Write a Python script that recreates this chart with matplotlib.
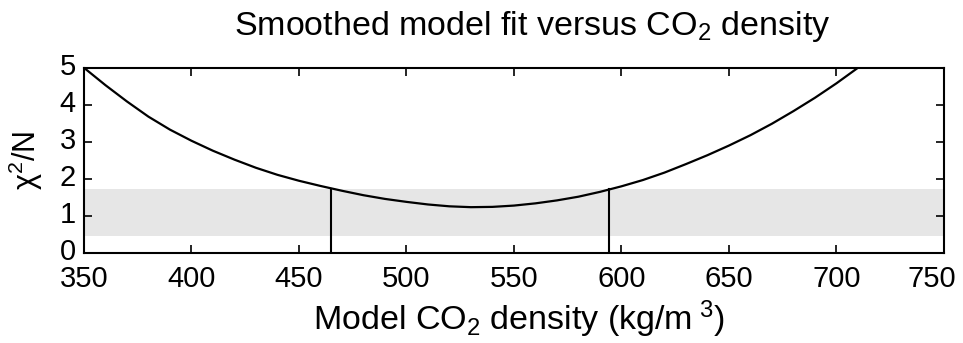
import matplotlib
matplotlib.use("Agg")
import matplotlib.pyplot as plt
from matplotlib.transforms import ScaledTranslation

plt.rcParams["font.family"] = ["Liberation Sans", "DejaVu Sans"]
plt.rcParams["mathtext.fontset"] = "custom"
plt.rcParams["mathtext.rm"] = "Liberation Sans"
plt.rcParams["mathtext.it"] = "Liberation Sans"

# smoothed chi^2/N curve
density = [350, 360, 370, 380, 390, 400, 410, 420, 430, 440, 450, 460, 470, 480,
           490, 500, 510, 520, 530, 540, 550, 560, 570, 580, 590, 600, 610, 620,
           630, 640, 650, 660, 670, 680, 690, 700, 710]
chi2 = [5.0, 4.53, 4.09, 3.68, 3.33, 3.03, 2.76, 2.52, 2.30, 2.11, 1.95, 1.81, 1.68, 1.56,
        1.46, 1.38, 1.31, 1.26, 1.237, 1.245, 1.28, 1.34, 1.42, 1.52, 1.65, 1.80, 1.97, 2.17,
        2.40, 2.64, 2.90, 3.18, 3.49, 3.83, 4.19, 4.58, 5.0]

# acceptance band and bounds
band_low = 0.45
band_high = 1.73
bounds = [465, 594]

fig = plt.figure(figsize=(9.63, 3.43), dpi=100)
ax = fig.add_axes([0.0872, 0.2624, 0.893, 0.540])

ax.axhspan(band_low, band_high, color="#e6e6e6", lw=0, zorder=0)
ax.plot(density, chi2, color="black", lw=1.6, zorder=3)
for b in bounds:
    ax.plot([b, b], [0, band_high], color="black", lw=1.5, zorder=3)

ax.set_xlim(350, 750)
ax.set_ylim(0, 5)
ax.set_xticks(range(350, 751, 50))
ax.set_yticks(range(0, 6))
ax.tick_params(direction="in", length=6, width=1.2, top=True, right=True,
               labelsize=21)
ax.tick_params(axis="x", pad=9)
ax.tick_params(axis="y", pad=6)
for s in ax.spines.values():
    s.set_linewidth(1.5)

# keep the last x label inside the figure, as in the original
last = ax.get_xticklabels()[-1]
last.set_transform(last.get_transform() + ScaledTranslation(-9 / 72, 0, fig.dpi_scale_trans))
# lift the y labels a little so "0" clears "350"
for lab in ax.get_yticklabels():
    lab.set_transform(lab.get_transform() + ScaledTranslation(0, 3 / 72, fig.dpi_scale_trans))

fig.text(532 / 963, 1 - 27 / 343, "Smoothed model fit versus CO$_2$ density",
         fontsize=24.5, ha="center", va="center")
ax.set_xlabel("Model CO$_2$ density (kg/m$^{\\ 3}$)", fontsize=24.5)
ax.xaxis.set_label_coords(0.505, -0.245)
ax.set_ylabel("χ$^2$/N", fontsize=22)
ax.yaxis.set_label_coords(-0.045, 0.5)

fig.savefig("out.png", dpi=100)
